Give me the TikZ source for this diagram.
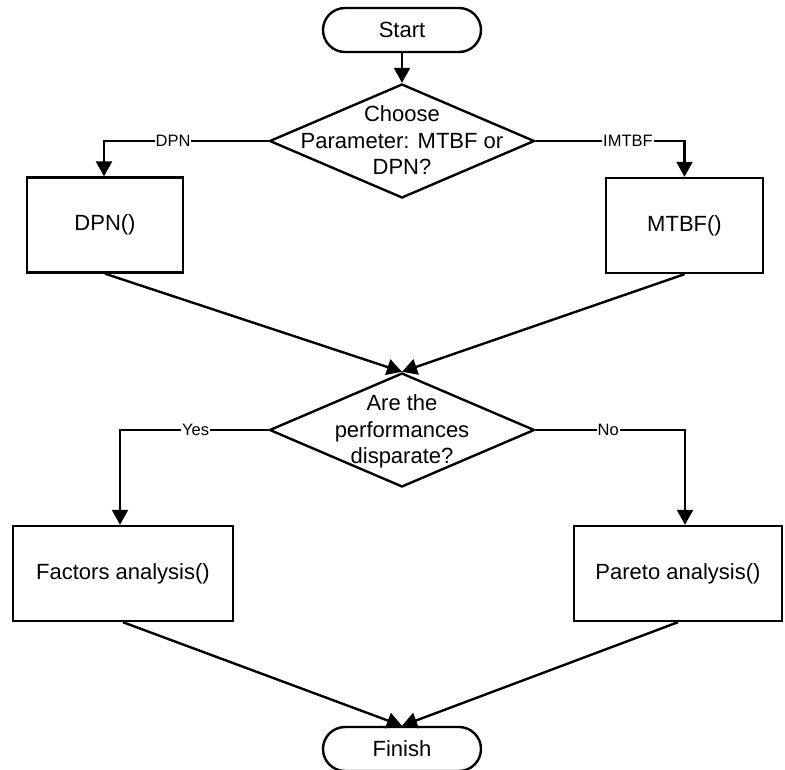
\documentclass[tikz,border=0pt]{standalone}
\usepackage{fontspec}
\setmainfont{Liberation Sans}
\usetikzlibrary{shapes.geometric,arrows.meta}

% text of a decision node, centred without widening the diamond
\newcommand{\decisiontext}[1]{\smash{\makebox[0pt]{\raisebox{-7pt}{\begin{tabular}{@{}c@{}}#1\end{tabular}}}}}

\tikzset{
  flow/.style={line width=2.4pt},
  arrowline/.style={flow, -{Triangle[length=15pt,width=16pt]}},
  terminal/.style={draw, line width=2.4pt, rectangle, rounded corners=22pt,
    minimum width=158pt, minimum height=44pt, inner sep=0pt},
  process/.style={draw, line width=2.4pt, rectangle, minimum height=95pt, inner sep=0pt},
  decision/.style={draw, line width=2.4pt, diamond, minimum width=265pt,
    minimum height=114pt, inner sep=0pt},
  edgelabel/.style={fill=white, inner sep=1pt, font=\fontsize{16.5}{20}\selectfont}
}

\begin{document}
\begin{tikzpicture}[x=1pt, y=-1pt, font=\fontsize{22}{26.5}\selectfont]
  \useasboundingbox (0,0) rectangle (785,769);

  % nodes
  \node[terminal] (start) at (402,30) {Start};
  \node[decision] (q1) at (402,141) {\decisiontext{Choose\\Parameter: MTBF or\\DPN?}};
  \node[process, minimum width=156pt] (dpn) at (105,225) {DPN()};
  \node[process, minimum width=157pt] (mtbf) at (684.5,225.5) {MTBF()};
  \node[decision] (q2) at (402,430) {\decisiontext{Are the\\performances\\disparate?}};
  \node[process, minimum width=220pt] (fac) at (123,573.5) {Factors analysis()};
  \node[process, minimum width=208pt] (par) at (678,573.5) {Pareto analysis()};
  \node[terminal] (fin) at (402,749) {Finish};

  % connectors
  \draw[arrowline] (start.south) -- (q1.north);
  \draw[arrowline] (q1.west) -| node[edgelabel, pos=0.29] {DPN} ([xshift=-1pt]dpn.north);
  \draw[arrowline] (q1.east) -| node[edgelabel, pos=0.31] {IMTBF} (mtbf.north);
  \draw[arrowline] (dpn.south) -- (q2.north);
  \draw[arrowline] (mtbf.south) -- (q2.north);
  \draw[arrowline] (q2.west) -| node[edgelabel, pos=0.245] {Yes} ([xshift=-3pt]fac.north);
  \draw[arrowline] (q2.east) -| node[edgelabel, pos=0.243] {No} ([xshift=7pt]par.north);
  \draw[arrowline] (fac.south) -- (fin.north);
  \draw[arrowline] (par.south) -- (fin.north);
\end{tikzpicture}
\end{document}
